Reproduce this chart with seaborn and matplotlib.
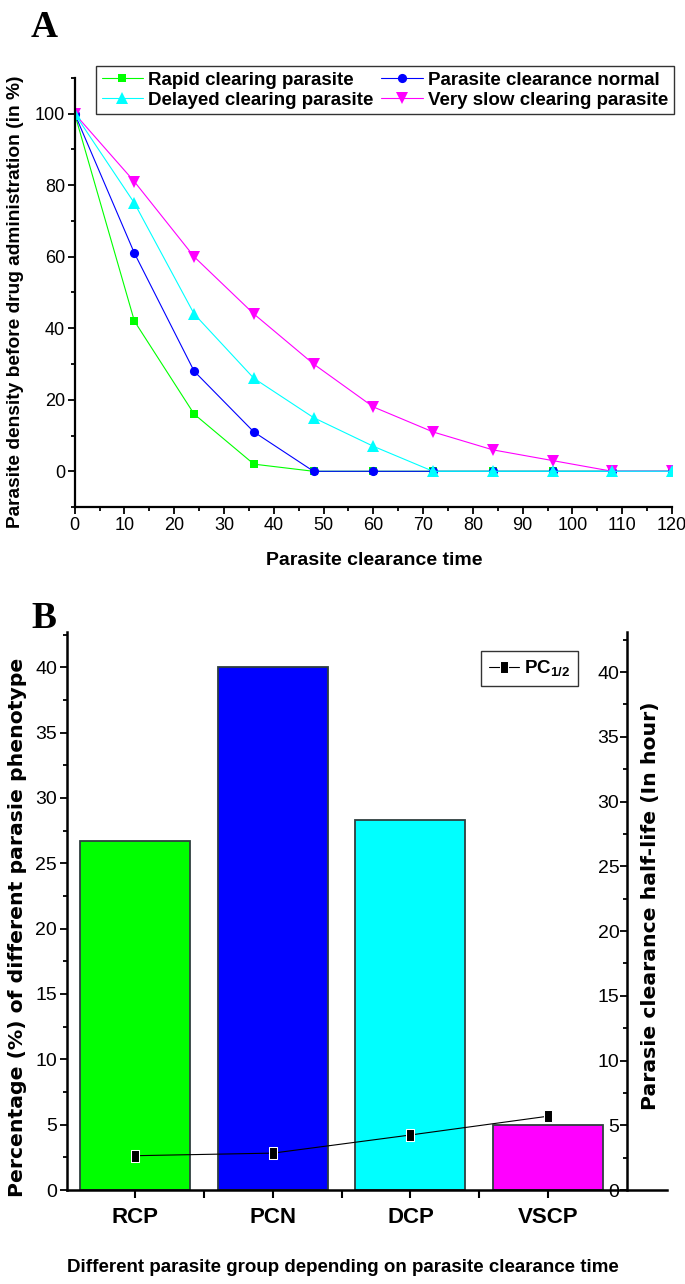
import matplotlib
matplotlib.use("Agg")
import matplotlib.pyplot as plt
import seaborn as sns
from matplotlib.ticker import MultipleLocator, FixedLocator

# panel A data: parasite density (% of baseline) vs clearance time (h)
time_h = [0, 12, 24, 36, 48, 60, 72, 84, 96, 108, 120]
rapid = [100, 42, 16, 2, 0, 0, 0, 0, 0, 0, 0]
normal = [100, 61, 28, 11, 0, 0, 0, 0, 0, 0, 0]
delayed = [100, 75, 44, 26, 15, 7, 0, 0, 0, 0, 0]
very_slow = [100, 81, 60, 44, 30, 18, 11, 6, 3, 0, 0]

# panel B data
groups = ["RCP", "PCN", "DCP", "VSCP"]
percent = [26.67, 40.0, 28.33, 5.0]
half_life = [2.65, 2.85, 4.25, 5.7]

sns.set_theme(style="ticks")
plt.rcParams["font.family"] = ["Liberation Sans Narrow", "Liberation Sans", "DejaVu Sans"]
plt.rcParams.update({
    "axes.edgecolor": "black", "xtick.color": "black", "ytick.color": "black",
    "text.color": "black", "axes.labelcolor": "black", "mathtext.default": "regular",
})

fig = plt.figure(figsize=(6.85, 12.84), dpi=100)

# ---------------- panel A ----------------
ax_a = fig.add_axes([0.109, 0.6051, 0.872, 0.3342])
styles = {
    "Rapid clearing parasite": (rapid, "#00ff00", "s", 5.8),
    "Parasite clearance normal": (normal, "#0000ff", "o", 6.6),
    "Very slow clearing parasite": (very_slow, "#ff00ff", "v", 8.4),
    "Delayed clearing parasite": (delayed, "#00ffff", "^", 8.4),
}
for name, (vals, col, mk, ms) in styles.items():
    sns.lineplot(x=time_h, y=vals, ax=ax_a, color=col, marker=mk, markersize=ms,
                 markeredgewidth=0, linewidth=0.8, label=name)

ax_a.set_xlim(0, 120)
ax_a.set_ylim(-10, 110)
ax_a.xaxis.set_major_locator(MultipleLocator(10))
ax_a.xaxis.set_minor_locator(MultipleLocator(5))
ax_a.yaxis.set_major_locator(FixedLocator([0, 20, 40, 60, 80, 100]))
ax_a.yaxis.set_minor_locator(FixedLocator([-10, 10, 30, 50, 70, 90, 110]))
ax_a.tick_params(which="major", direction="out", length=5, width=1.3, labelsize=13, pad=2)
ax_a.tick_params(which="minor", direction="out", length=3, width=1.3)
for s in ["top", "right"]:
    ax_a.spines[s].set_visible(False)
for s in ["left", "bottom"]:
    ax_a.spines[s].set_linewidth(1.6)

ax_a.set_xlabel("Parasite clearance time", fontsize=14, fontweight="bold", va="center")
ax_a.xaxis.set_label_coords(0.501, -0.1235)
ax_a.set_ylabel("Parasite density before drug administration (in %)", fontsize=13.8,
                fontweight="bold", va="center")
ax_a.yaxis.set_label_coords(-0.0998, 0.478)

h, l = ax_a.get_legend_handles_labels()
ax_a.get_legend().remove()
order = ["Rapid clearing parasite", "Delayed clearing parasite",
         "Parasite clearance normal", "Very slow clearing parasite"]
hmap = dict(zip(l, h))
leg = fig.legend([hmap[k] for k in order], order, ncol=2, loc="upper left",
                 bbox_to_anchor=(96 / 685, 1 - 66 / 1284), borderaxespad=0,
                 frameon=True, fancybox=False, edgecolor="black", handlelength=2.2,
                 columnspacing=0.4, handletextpad=0.3, borderpad=0.3, labelspacing=0.15,
                 prop=dict(weight="bold", size=13.5))
leg.get_frame().set_linewidth(1.0)

fig.text(31 / 685, 1 - 37 / 1284, "A", family="Liberation Serif", weight="bold", size=27,
         va="baseline")

# ---------------- panel B ----------------
ax_b = fig.add_axes([0.0974, 0.0732, 0.8764, 0.4346])
sns.barplot(x=groups, y=percent, hue=groups, palette=["#00ff00", "#0000ff", "#00ffff", "#ff00ff"],
            width=0.8, edgecolor="#2f3f3f", linewidth=1.3, saturation=1, legend=False, ax=ax_b)
ax_b.set_xlim(-0.5, 3.866)
ax_b.set_ylim(0, 42.7)
ax_b.yaxis.set_major_locator(MultipleLocator(5))
ax_b.yaxis.set_minor_locator(MultipleLocator(2.5))
ax_b.xaxis.set_minor_locator(FixedLocator([0.5, 1.5, 2.5]))
ax_b.tick_params(axis="y", which="major", direction="out", length=5, width=1.3, labelsize=14, pad=2)
ax_b.tick_params(axis="y", which="minor", direction="out", length=3, width=1.3)
ax_b.tick_params(axis="x", which="both", direction="out", length=6, width=1.5, pad=6)
for lab in ax_b.get_xticklabels():
    lab.set_fontsize(16)
    lab.set_fontweight("bold")
for s in ["top", "right"]:
    ax_b.spines[s].set_visible(False)
for s in ["left", "bottom"]:
    ax_b.spines[s].set_linewidth(1.8)

ax_b.set_xlabel("Different parasite group depending on parasite clearance time", fontsize=13.5,
                fontweight="bold", va="center")
ax_b.xaxis.set_label_coords(0.460, -0.138)
ax_b.set_ylabel("Percentage (%) of different parasie phenotype", family="DejaVu Sans",
                fontsize=14.7, fontweight="bold", va="center")
ax_b.yaxis.set_label_coords(-0.0828, 0.471)

# tall rectangle marker, like the original figure
rect = [(-0.68, -1), (0.68, -1), (0.68, 1), (-0.68, 1), (-0.68, -1)]
ax2 = ax_b.twinx()
sns.lineplot(x=[0, 1, 2, 3], y=half_life, ax=ax2, color="black", marker=rect, markersize=8.4,
             linewidth=0.8, label="PC$_{1/2}$")
ax2.set_ylim(0, 43.1)
ax2.set_xlim(-0.5, 3.866)
ax2.set_xlabel("")
for s in ["top", "left", "bottom"]:
    ax2.spines[s].set_visible(False)
ax2.spines["right"].set_position(("data", 3.574))
ax2.spines["right"].set_linewidth(1.8)
ax2.yaxis.set_major_locator(MultipleLocator(5))
ax2.yaxis.set_minor_locator(MultipleLocator(2.5))
ax2.tick_params(axis="y", which="major", direction="in", length=5, width=1.3, labelsize=14, pad=-5.5)
ax2.tick_params(axis="y", which="minor", direction="in", length=3, width=1.3)
ax2.set_yticks(range(0, 45, 5))
for lab in ax2.get_yticklabels():
    lab.set_horizontalalignment("right")
ax2.set_ylabel("Parasie clearance half-life (In hour)", family="DejaVu Sans", fontsize=14.7,
               fontweight="bold", va="center")
ax2.yaxis.set_label_coords(0.9717, 0.509)

ax2.get_legend().remove()
leg2 = ax2.legend(loc="upper left", bbox_to_anchor=(481 / 685, 1 - 651 / 1284),
                  bbox_transform=fig.transFigure, borderaxespad=0, frameon=True, fancybox=False,
                  edgecolor="black", handlelength=1.6, handletextpad=0.3, borderpad=0.4,
                  prop=dict(weight="bold", size=13.5))
leg2.get_frame().set_linewidth(1.0)

fig.text(31 / 685, 1 - 628 / 1284, "B", family="Liberation Serif", weight="bold", size=27,
         va="baseline")

fig.savefig("out.png", dpi=100)
